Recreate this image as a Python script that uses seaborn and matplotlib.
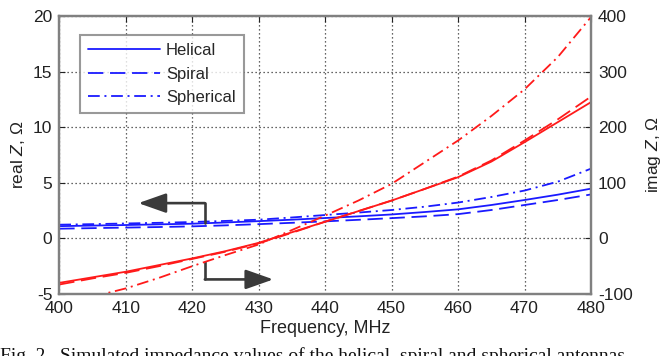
import numpy as np
import pandas as pd
import matplotlib
matplotlib.use("Agg")
import matplotlib.pyplot as plt
import seaborn as sns

# ---- data ----
freq = [400, 405, 410, 415, 420, 425, 430, 435, 440, 445, 450, 455, 460, 465, 470, 475, 480]

# real Z (left axis, blue)
real_helical = [1.10, 1.15, 1.20, 1.26, 1.32, 1.43, 1.55, 1.68, 1.83, 1.98, 2.15, 2.37, 2.61, 3.00, 3.45, 3.93, 4.47]
real_spiral = [0.87, 0.92, 0.97, 1.02, 1.08, 1.17, 1.28, 1.40, 1.53, 1.67, 1.82, 1.98, 2.18, 2.55, 3.00, 3.45, 3.95]
real_spherical = [1.23, 1.28, 1.34, 1.40, 1.47, 1.57, 1.68, 1.88, 2.10, 2.32, 2.55, 2.85, 3.22, 3.72, 4.30, 5.10, 6.27]

# imag Z (right axis, red)
imag_helical = [-80, -70, -60, -48, -36, -23, -8, 11, 30, 49, 68, 89, 110, 138, 173, 209, 245]
imag_spiral = [-83, -72, -62, -50, -37, -24, -9, 10, 30, 49, 68, 89, 111, 140, 176, 214, 255]
imag_spherical = [np.nan, -105, -90, -71, -50, -30, -11, 15, 41, 68, 98, 137, 176, 220, 268, 326, 398]

series_names = ["Helical", "Spiral", "Spherical"]
x_ticks = [400, 410, 420, 430, 440, 450, 460, 470, 480]
left_ticks = [-5, 0, 5, 10, 15, 20]
right_ticks = [-100, 0, 100, 200, 300, 400]

real_df = pd.DataFrame({
    "freq": freq * 3,
    "val": real_helical + real_spiral + real_spherical,
    "antenna": sum([[n] * len(freq) for n in series_names], []),
})
imag_df = pd.DataFrame({
    "freq": freq * 3,
    "val": imag_helical + imag_spiral + imag_spherical,
    "antenna": sum([[n] * len(freq) for n in series_names], []),
}).dropna()

sns.set_style("white")
plt.rcParams["font.family"] = ["Liberation Sans", "DejaVu Sans"]
plt.rcParams["mathtext.fontset"] = "custom"
plt.rcParams["mathtext.it"] = "Liberation Sans:italic"
plt.rcParams["mathtext.rm"] = "Liberation Sans"
plt.rcParams["axes.unicode_minus"] = False

fig = plt.figure(figsize=(6.66, 3.56), dpi=100)
ax = fig.add_axes([0.089, 0.1742, 0.7984, 0.781])
ax2 = ax.twinx()

lw = 1.3
dashes = {"Helical": "", "Spiral": (8.5, 3.7), "Spherical": (6.5, 2.6, 1.1, 2.6)}

sns.lineplot(data=imag_df, x="freq", y="val", style="antenna", dashes=dashes,
             color="#ff1a1a", lw=lw, ax=ax2, legend=False, sort=False)
sns.lineplot(data=real_df, x="freq", y="val", style="antenna", dashes=dashes,
             color="#1a1aff", lw=lw, ax=ax, legend=True, sort=False)

ax.set_xlim(400, 480)
ax.set_ylim(-5, 20)
ax2.set_ylim(-100, 400)
ax.set_xticks(x_ticks)
ax.set_yticks(left_ticks)
ax2.set_yticks(right_ticks)

fs = 12.5
ax.tick_params(axis="both", direction="in", length=4, width=0.8, labelsize=fs, colors="#222222",
               top=True, pad=5)
ax2.tick_params(axis="y", direction="in", length=4, width=0.8, labelsize=fs, colors="#222222", pad=5)
ax.set_xlabel("Frequency, MHz", fontsize=fs + 0.5, color="#222222", labelpad=3)
ax.set_ylabel(r"real $Z$, Ω", fontsize=fs, color="#222222", labelpad=4)
ax2.set_ylabel(r"imag $Z$, Ω", fontsize=fs, color="#222222", labelpad=8)

ax.grid(True, color="#333333", linestyle=(0, (1, 2.2)), linewidth=0.9)
ax.set_axisbelow(True)
for a in (ax, ax2):
    for s in a.spines.values():
        s.set_color("#808080")
        s.set_linewidth(1.6)

# legend
leg = ax.legend(loc="upper left", bbox_to_anchor=(0.039, 0.932), frameon=True, fancybox=False,
                fontsize=12, handlelength=4.3, handletextpad=0.35, labelspacing=0.5,
                borderpad=0.5, borderaxespad=0)
leg.get_frame().set_edgecolor("#808080")
leg.get_frame().set_linewidth(1.5)
for h in leg.get_lines():
    h.set_linewidth(lw)
leg.set_zorder(5)

# arrows (annotation)
acol = "#3a3a3a"
ax.plot([421.9, 421.9], [1.38, 3.17], color=acol, lw=1.9, zorder=4)
ax.annotate("", xy=(411.9, 3.17), xytext=(421.9, 3.17),
            arrowprops=dict(arrowstyle="-|>,head_length=0.85,head_width=0.3", color=acol, lw=1.9,
                            mutation_scale=20, shrinkA=0, shrinkB=0), zorder=4)
ax.plot([421.9, 421.9], [-2.13, -3.69], color=acol, lw=1.9, zorder=4)
ax.annotate("", xy=(432.2, -3.69), xytext=(421.9, -3.69),
            arrowprops=dict(arrowstyle="-|>,head_length=0.85,head_width=0.3", color=acol, lw=1.9,
                            mutation_scale=20, shrinkA=0, shrinkB=0), zorder=4)

# caption (cut off at the bottom in the reference)
fig.text(0.0, 0.024, "Fig. 2.  Simulated impedance values of the helical, spiral and spherical antennas",
         family="Liberation Serif", fontsize=14, va="top", ha="left", color="#111111")

fig.savefig("out.png", dpi=100)
